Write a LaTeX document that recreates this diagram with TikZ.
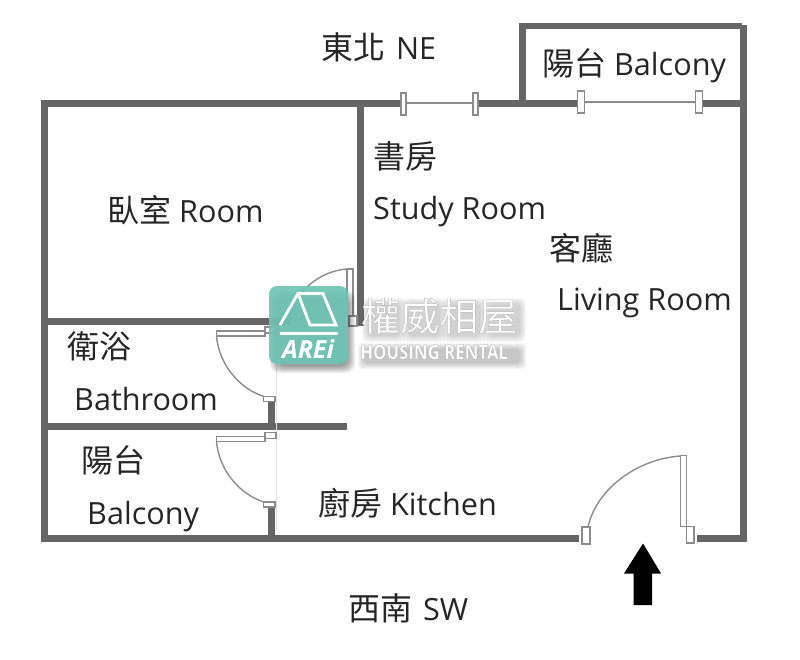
\documentclass[tikz,border=0pt]{standalone}
\usepackage{fontspec}
\setmainfont{Open Sans}
\newfontfamily\cjk{Noto Sans CJK TC}
\definecolor{wallgray}{HTML}{666666}
\definecolor{framegray}{HTML}{8C8C8C}
\definecolor{logogreen}{HTML}{6FC4B5}
\newcommand{\zh}[1]{{\cjk\fontsize{32}{32}\selectfont #1}}
\newcommand{\edged}[1]{\special{pdf:code 2 Tr 0.4 w 0.72 G}#1\special{pdf:code 0 Tr}}
\tikzset{
  wall/.style={wallgray,line width=7pt},
  frame/.style={draw=framegray,fill=white,line width=1.4pt},
  pane/.style={framegray,line width=1.4pt},
  room/.style={anchor=base west,inner sep=0pt,text=black!85,font=\fontsize{30.6}{30.6}\selectfont},
}
\begin{document}
\begin{tikzpicture}[x=1pt,y=-1pt]
      \useasboundingbox (0,0) rectangle (800,659);
      % outer walls
      \draw[wall,line cap=rect] (44,103) -- (400,103);
      \draw[wall] (478,103) -- (577,103);
      \draw[wall] (703,103) -- (743.5,103);
      \draw[wall] (44,99.5) -- (44,541);
      \draw[wall] (40.5,538) -- (579,538);
      \draw[wall] (697,538) -- (747,538);
      \draw[wall] (743.5,25) -- (743.5,541);
      \draw[wall] (522,23) -- (522,103);
      \draw[wall,line width=6pt] (518.5,26) -- (742,26);
      % inner walls
      \draw[wall] (360.5,103) -- (360.5,326);
      \draw[wall] (44,321) -- (290,321);
      \draw[wall] (44,426.5) -- (347,426.5);
      \draw[wall] (271.5,402) -- (271.5,426);
      \draw[wall] (271.5,508) -- (271.5,538);
      \draw[black!12,thin] (276.5,340) -- (276.5,530);
      % windows
      \draw[pane] (406,103) -- (473,103);
      \draw[pane] (585,102) -- (695,102);
      \foreach \x in {401,473} \draw[frame] (\x,93) rectangle (\x+5,115);
      \foreach \x in {577.5,695.5} \draw[frame] (\x,91) rectangle (\x+7,113);
      % doors
      \draw[frame] (347,269) rectangle (353,316);
      \draw[frame] (349,316) rectangle (357,326);
      \draw[pane] (347,269) .. controls (320,271) and (294,291) .. (288,322);
      \foreach \y in {0,105.5} {
        \draw[frame] (216.5,331+\y) rectangle (265,336+\y);
        \draw[frame] (265,327+\y) rectangle (276,333+\y);
        \draw[pane] (216.5,336+\y) .. controls (219,365+\y) and (240,389+\y) .. (264,396.5+\y);
        \draw[frame] (263.5,396.5+\y) rectangle (275,401.5+\y);
      }
      \draw[frame] (680.5,455.5) rectangle (686.5,526.5);
      \draw[frame] (686.5,526.5) rectangle (694,543);
      \draw[pane] (680.5,456) .. controls (636,459) and (596,490) .. (588,527);
      \draw[frame] (582,527) rectangle (590,544);
      % entrance arrow
      \fill[black] (643,543.5) -- (661,573.5) -- (652,573.5) -- (652,605) -- (633.5,605) -- (633.5,573.5) -- (624,573.5) -- cycle;
      % labels
      \node (ne) [room] at (321,59) {\zh{東北}\hspace{3pt}\ NE};
      \node (upperbalcony) [room] at (542,75) {\zh{陽台}\ Balcony};
      \node (studyzh) [room] at (373,168) {\zh{書房}};
      \node (studyen) [room] at (373,219) {Study Room};
      \node (livingzh) [room] at (549,260) {\zh{客廳}};
      \node (livingen) [room] at (557,310) {Living Room};
      \node (bedroom) [room] at (107,222) {\zh{臥室}\ Room};
      \node (bathzh) [room] at (67,358) {\zh{衛浴}};
      \node (bathen) [room] at (74,410) {Bathroom};
      \node (lowerzh) [room] at (81,472) {\zh{陽台}};
      \node (loweren) [room] at (87,524) {Balcony};
      \node (kitchen) [room] at (318,515) {\zh{廚房}\ Kitchen};
      \node (sw) [room] at (348,620) {\zh{西南}\hspace{3pt}\ SW};
      % logo
      \foreach \d in {0,...,7}
        \fill[black,opacity=0.06,rounded corners=9pt] (270+\d,290+\d) rectangle (355-\d,373-\d);
      \fill[logogreen,opacity=0.93,rounded corners=8pt] (269,286) rectangle (348,364);
      \draw[white,line width=2.8pt,line join=miter] (280,325) -- (298,293.5) -- (323,293.5) -- (336,325) -- (310,325) -- (298,293.5);
      \draw[white,line width=2.8pt] (279.5,333.5) -- (338,333.5);
      \node (arei) [anchor=center,inner sep=0pt,text=white,font=\fontsize{25}{25}\selectfont\bfseries\itshape] at (308,349) {AREi};
      % soft shadow behind the white words
      \foreach \d in {0,...,6} {
        \foreach \x in {362,402,442,482}
          \fill[black,opacity=0.028,rounded corners=5pt] (\x+\d,298+\d) rectangle (\x+44-\d,342-\d);
        \fill[black,opacity=0.035,rounded corners=4pt] (358+\d,343+\d) rectangle (526-\d,369-\d);
      }
      \node (brand) [anchor=west,inner sep=0pt,text=white,font=\cjk\fontsize{39}{39}\selectfont] at (361,316) {\edged{權威相屋}};
      \node (rental) [anchor=west,inner sep=0pt,text=white,font=\fontsize{20}{20}\selectfont\bfseries] at (360,352) {\scalebox{.84}[1]{\edged{HOUSING RENTAL}}};
\end{tikzpicture}
\end{document}
